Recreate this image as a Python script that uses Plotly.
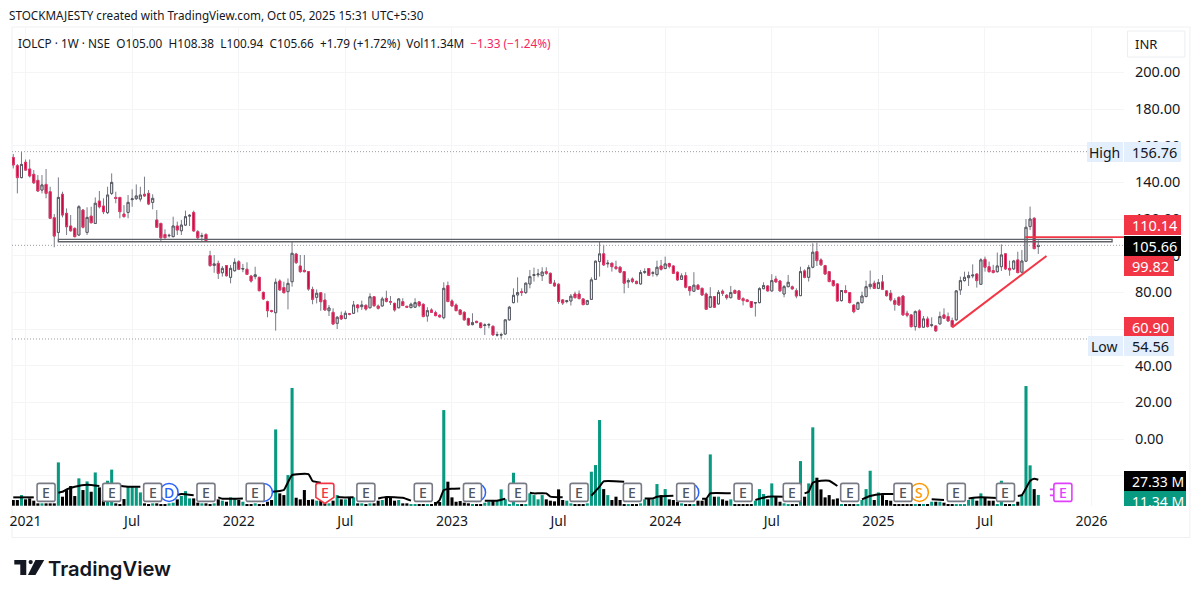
import pandas as pd
import plotly.graph_objects as go

week_axis = pd.date_range("2020-12-14", periods=272, freq="7D")

opens = [
    153.6, 149.1, 142.6, 151.0, 147.3, 144.4, 141.1, 135.8, 138.9, 134.9,
    120.7, 112.7, 133.5, 123.1, 116.2, 114.9, 111.3, 124.9, 112.7, 121.6,
    117.6, 129.8, 127.1, 123.5, 134.0, 131.8, 131.8, 122.7, 123.6, 130.6,
    131.1, 130.9, 133.5, 134.0, 129.1, 119.5, 117.6, 111.6, 110.9, 110.4,
    116.2, 113.6, 116.7, 121.6, 123.6, 113.1, 110.6, 111.6, 100.0, 94.7,
    95.8, 90.7, 94.6, 88.2, 91.8, 96.7, 92.7, 92.6, 88.9, 88.6,
    88.2, 80.0, 74.9, 70.0, 68.9, 86.2, 82.6, 80.4, 85.8, 100.9,
    94.4, 92.0, 91.3, 81.6, 77.3, 79.8, 75.8, 70.0, 69.1, 63.1,
    67.3, 65.8, 68.3, 68.6, 73.1, 72.2, 72.9, 71.6, 77.6, 72.5,
    72.6, 76.7, 75.0, 74.0, 71.6, 74.9, 72.4, 71.7, 71.9, 74.8,
    73.5, 67.1, 70.4, 68.9, 67.5, 66.2, 83.7, 75.3, 73.1, 70.4,
    69.1, 65.7, 62.4, 64.2, 63.3, 61.9, 62.2, 61.5, 56.7, 56.7,
    57.3, 65.0, 74.4, 78.6, 80.4, 79.9, 84.6, 89.2, 89.6, 89.1,
    91.3, 90.4, 85.1, 84.4, 75.9, 75.0, 75.3, 79.1, 79.1, 76.4,
    73.5, 76.2, 87.1, 96.8, 101.0, 95.6, 95.9, 93.9, 93.7, 91.3,
    85.7, 87.3, 86.0, 84.6, 90.9, 93.0, 90.4, 89.7, 94.4, 93.0,
    95.7, 94.4, 91.0, 87.1, 89.1, 83.1, 80.6, 83.9, 82.2, 79.1,
    71.9, 77.7, 73.7, 80.6, 78.4, 77.1, 81.0, 80.8, 76.6, 75.9,
    75.0, 74.2, 74.4, 82.0, 83.5, 80.8, 87.3, 86.2, 79.1, 83.1,
    83.0, 80.9, 78.2, 91.7, 88.2, 93.7, 102.2, 97.7, 94.6, 91.3,
    86.4, 84.6, 75.5, 81.0, 79.9, 73.1, 70.8, 74.4, 77.7, 83.1,
    85.0, 82.2, 85.7, 80.8, 79.5, 75.5, 77.3, 78.0, 68.6, 67.7,
    61.3, 69.9, 61.0, 65.5, 62.0, 61.7, 62.8, 67.7, 66.8, 64.6,
    65.0, 81.3, 86.4, 88.0, 89.0, 90.0, 84.4, 98.0, 94.0, 91.9,
    91.3, 94.0, 101.0, 93.1, 92.8, 97.7, 91.0, 97.0, 115.9, 120.4,
    105.0,
]
highs = [
    155.5, 150.0, 156.76, 152.5, 152.5, 146.7, 144.0, 144.0, 147.3, 137.6,
    122.7, 142.7, 134.9, 125.8, 122.2, 115.5, 127.6, 125.5, 126.4, 126.7,
    131.8, 135.3, 131.3, 137.6, 144.9, 134.9, 132.0, 127.6, 133.1, 136.2,
    138.9, 137.6, 143.1, 135.8, 133.5, 124.9, 118.0, 114.4, 112.0, 121.3,
    118.6, 119.5, 124.6, 122.7, 124.6, 114.0, 112.5, 112.2, 102.7, 100.4,
    97.3, 94.4, 94.9, 94.9, 98.6, 97.6, 95.5, 96.4, 89.5, 94.0,
    88.5, 80.4, 75.5, 70.5, 87.6, 87.1, 85.8, 87.6, 107.6, 101.6,
    100.4, 100.4, 91.6, 83.1, 81.6, 80.2, 79.5, 73.1, 71.3, 67.1,
    69.5, 70.0, 68.7, 75.3, 73.6, 75.5, 73.5, 79.5, 78.0, 73.4,
    77.6, 80.9, 78.0, 74.4, 76.8, 76.8, 72.5, 74.4, 76.8, 75.3,
    74.0, 71.9, 71.3, 70.0, 68.0, 85.5, 85.9, 76.2, 74.0, 70.8,
    69.7, 66.2, 68.6, 64.5, 63.5, 63.1, 63.3, 61.9, 58.6, 58.0,
    65.3, 72.6, 82.2, 88.2, 82.2, 85.3, 92.2, 93.5, 92.8, 93.7,
    93.7, 90.8, 86.8, 85.0, 76.2, 75.9, 79.1, 80.4, 81.0, 76.8,
    75.9, 88.2, 97.3, 107.5, 105.9, 97.7, 96.2, 97.3, 94.4, 91.7,
    87.7, 88.2, 86.4, 92.2, 93.1, 93.3, 91.7, 97.3, 97.7, 99.5,
    96.2, 94.8, 91.3, 90.4, 91.0, 83.5, 91.0, 84.6, 82.6, 79.9,
    82.8, 78.0, 81.3, 81.6, 79.1, 83.5, 81.7, 81.3, 77.3, 76.2,
    75.3, 74.6, 82.8, 85.5, 83.9, 89.9, 89.0, 86.8, 84.0, 89.5,
    83.7, 82.2, 94.0, 92.6, 95.0, 106.8, 107.1, 98.6, 95.0, 91.7,
    86.8, 85.0, 81.3, 83.9, 80.2, 73.5, 75.0, 80.4, 86.4, 91.9,
    86.4, 87.3, 89.5, 81.3, 81.3, 76.8, 77.7, 78.4, 70.0, 68.2,
    70.2, 70.8, 67.1, 66.8, 66.4, 62.0, 69.5, 71.3, 69.0, 66.2,
    81.3, 88.6, 91.3, 91.3, 95.3, 90.4, 98.6, 99.5, 96.8, 95.0,
    101.7, 106.2, 101.3, 97.3, 97.7, 102.2, 103.1, 120.0, 126.8, 121.0,
    108.38,
]
lows = [
    147.6, 134.0, 142.2, 146.4, 142.7, 139.1, 134.9, 134.0, 131.3, 120.0,
    104.6, 107.6, 120.9, 111.3, 113.1, 110.0, 110.7, 114.9, 111.3, 117.6,
    117.3, 125.8, 122.7, 122.7, 133.1, 128.6, 120.4, 120.9, 120.4, 126.7,
    130.4, 129.5, 132.2, 127.6, 125.3, 115.5, 107.6, 109.5, 110.0, 110.0,
    111.3, 111.3, 116.2, 116.2, 113.1, 109.1, 108.0, 107.8, 94.0, 90.7,
    87.3, 88.6, 88.6, 84.9, 91.3, 92.2, 91.0, 89.5, 85.3, 87.1,
    80.6, 75.8, 66.4, 69.0, 59.1, 80.9, 79.5, 70.7, 83.1, 95.5,
    90.7, 90.9, 80.9, 73.5, 74.0, 70.0, 70.0, 67.1, 62.4, 60.0,
    64.9, 65.3, 67.5, 68.2, 69.1, 70.4, 70.0, 71.3, 72.2, 70.6,
    72.2, 74.5, 73.1, 69.5, 71.3, 72.6, 71.5, 71.3, 71.5, 71.9,
    66.4, 64.0, 68.8, 67.0, 66.2, 65.3, 74.6, 72.2, 69.9, 67.5,
    64.6, 61.9, 62.0, 63.2, 60.4, 56.8, 60.4, 56.4, 55.9, 54.56,
    56.8, 64.6, 74.0, 74.4, 78.0, 79.1, 82.2, 85.9, 88.2, 86.2,
    89.5, 84.6, 83.1, 73.7, 73.1, 74.0, 72.8, 76.8, 76.2, 73.0,
    73.0, 75.9, 86.8, 88.6, 94.4, 93.5, 91.3, 92.2, 90.4, 79.5,
    82.4, 85.0, 84.4, 84.2, 90.0, 88.9, 88.6, 88.6, 91.9, 92.6,
    93.1, 90.0, 86.2, 86.8, 82.2, 78.2, 80.2, 81.3, 78.0, 70.4,
    71.5, 71.5, 73.3, 78.0, 76.0, 76.8, 79.1, 75.9, 72.9, 74.6,
    71.5, 66.8, 74.0, 81.7, 80.4, 80.4, 85.3, 80.4, 77.3, 82.8,
    81.5, 76.8, 78.0, 87.7, 85.9, 93.1, 94.4, 94.6, 89.5, 85.5,
    83.1, 75.0, 75.0, 79.5, 74.0, 68.6, 70.4, 74.0, 77.3, 81.7,
    81.9, 81.9, 81.3, 77.7, 75.0, 70.0, 72.8, 67.3, 66.4, 60.8,
    59.1, 60.4, 60.6, 60.8, 60.9, 58.4, 62.4, 65.5, 64.0, 61.0,
    64.6, 78.6, 85.9, 83.5, 87.7, 82.6, 84.0, 91.3, 90.8, 90.4,
    90.8, 91.7, 92.2, 89.1, 92.2, 90.4, 90.4, 96.6, 114.0, 103.5,
    100.94,
]
closes = [
    149.5, 142.6, 149.8, 146.7, 143.5, 139.8, 135.3, 138.6, 134.0, 120.4,
    110.7, 131.8, 122.2, 115.8, 113.6, 110.4, 126.7, 115.5, 120.9, 118.0,
    128.6, 126.7, 124.0, 133.1, 140.0, 131.2, 124.0, 121.3, 129.1, 131.0,
    132.6, 133.1, 132.6, 128.2, 131.3, 115.5, 109.8, 109.8, 111.1, 116.2,
    114.0, 116.7, 121.3, 122.0, 113.5, 109.8, 110.9, 108.2, 94.6, 95.5,
    90.4, 93.1, 89.1, 93.1, 96.4, 92.6, 93.0, 89.8, 86.2, 89.6,
    80.9, 76.4, 70.0, 69.6, 85.5, 81.3, 79.8, 84.9, 101.3, 96.2,
    91.3, 91.3, 81.8, 76.2, 79.5, 74.9, 70.4, 71.5, 62.7, 66.4,
    65.5, 68.6, 68.1, 73.1, 71.6, 73.1, 70.9, 77.6, 72.7, 71.3,
    76.4, 75.1, 74.7, 70.4, 76.4, 72.8, 71.9, 73.5, 74.4, 72.8,
    66.8, 70.0, 69.1, 67.3, 66.6, 82.2, 75.0, 72.6, 70.0, 68.0,
    65.0, 62.2, 63.5, 63.5, 60.8, 62.2, 62.4, 56.8, 56.9, 56.9,
    65.0, 71.9, 78.4, 79.9, 79.9, 85.0, 88.6, 89.7, 90.0, 91.1,
    90.4, 85.0, 83.5, 75.0, 74.2, 75.4, 77.9, 77.1, 76.6, 73.3,
    75.5, 86.8, 97.0, 101.0, 95.0, 95.9, 94.0, 93.0, 91.0, 85.0,
    86.4, 85.9, 84.8, 90.8, 91.3, 89.3, 90.7, 93.7, 92.6, 95.5,
    94.2, 90.4, 86.8, 89.0, 82.8, 80.9, 83.9, 81.7, 78.6, 70.8,
    77.7, 71.9, 80.0, 79.5, 77.1, 79.9, 79.5, 76.2, 75.5, 75.0,
    71.9, 74.4, 82.0, 83.7, 80.8, 86.4, 85.7, 80.8, 83.1, 85.5,
    81.9, 78.0, 91.3, 88.2, 93.5, 101.9, 97.3, 95.0, 90.0, 85.9,
    83.7, 75.3, 81.0, 79.9, 74.4, 69.5, 74.4, 78.0, 83.1, 84.4,
    82.2, 85.3, 81.7, 78.2, 75.9, 73.5, 73.1, 67.7, 67.5, 61.3,
    69.5, 61.0, 65.5, 61.3, 62.3, 59.0, 66.8, 65.9, 64.4, 61.3,
    80.8, 86.4, 88.2, 89.1, 89.4, 86.4, 97.7, 93.7, 91.3, 90.8,
    94.4, 100.4, 92.8, 92.2, 97.1, 90.8, 97.1, 115.5, 120.0, 103.87,
    105.66,
]
volumes = [
    6.0, 6.0, 11.2, 6.7, 7.7, 5.3, 2.5, 2.5, 2.5, 2.5,
    2.5, 45.6, 9.5, 16.5, 20.7, 10.2, 28.8, 16.5, 25.6, 14.7,
    35.0, 19.3, 13.0, 26.3, 38.0, 2.5, 1.8, 7.0, 20.0, 20.0,
    19.3, 14.0, 2.5, 1.8, 2.5, 2.5, 1.8, 1.8, 2.5, 3.2,
    6.7, 10.2, 15.4, 7.7, 7.7, 3.2, 2.5, 2.5, 1.8, 2.5,
    6.7, 5.3, 4.2, 8.8, 7.7, 6.0, 4.2, 1.8, 1.8, 2.5,
    1.8, 1.8, 4.2, 6.0, 80.3, 13.0, 11.2, 32.3, 124.0, 8.4,
    6.7, 16.5, 6.0, 6.7, 5.3, 5.3, 2.5, 2.5, 5.3, 11.2,
    6.7, 6.7, 8.8, 8.8, 2.5, 2.5, 1.8, 2.5, 2.5, 5.3,
    6.0, 8.8, 8.4, 5.3, 6.0, 2.5, 2.5, 1.8, 1.8, 1.8,
    1.8, 1.8, 1.8, 3.9, 3.9, 100.7, 25.3, 8.8, 4.2, 4.9,
    3.2, 2.5, 1.8, 1.8, 1.8, 3.2, 4.2, 5.3, 5.3, 17.2,
    6.7, 1.8, 34.7, 1.8, 1.8, 1.8, 13.0, 11.2, 6.7, 11.2,
    6.7, 5.3, 4.6, 17.2, 6.0, 5.3, 2.5, 1.8, 1.8, 1.8,
    2.5, 35.8, 42.8, 90.2, 17.5, 11.2, 6.0, 9.5, 6.0, 1.8,
    1.8, 1.8, 1.8, 2.5, 6.7, 8.1, 6.7, 22.8, 11.2, 17.5,
    6.7, 6.0, 4.2, 2.5, 1.8, 1.8, 1.8, 5.3, 5.3, 7.7,
    54.0, 9.5, 9.5, 6.7, 5.3, 6.7, 1.8, 1.8, 1.8, 1.8,
    1.8, 5.3, 17.5, 12.3, 6.7, 23.5, 10.2, 4.2, 2.5, 1.8,
    1.8, 1.8, 47.0, 9.5, 23.5, 82.5, 29.5, 17.2, 8.8, 11.2,
    6.7, 7.7, 1.8, 1.8, 1.8, 1.8, 1.8, 6.0, 17.5, 36.8,
    6.0, 14.0, 11.2, 6.0, 5.3, 1.8, 1.8, 1.8, 1.8, 1.8,
    1.8, 1.8, 1.8, 1.8, 4.2, 4.2, 4.2, 3.2, 1.8, 1.8,
    1.8, 1.8, 1.8, 6.0, 8.8, 5.3, 13.0, 8.8, 5.3, 5.3,
    1.8, 26.3, 1.8, 1.8, 1.8, 4.2, 11.2, 126.0, 42.5, 17.5,
    11.34,
]

# volume average, only where it can be seen; None leaves the line broken
ma_weeks = [
    0, 5, 8, 11, 12, 13, 15, 18, 21, 23, 26, 28, 31, 36, 40, 41, 44, 47, 50, 51, 56, 60,
    63, 65, 66, 68, 72, 73, 75, 77, 79, 80, 83, 86, 89, 91, 95, 97, 100, 103, 104, 105,
    107, 109, 112, 115, 118, 120, 123, 126, 127, 130, 131, 134, 138, 141, 143, 144, 149,
    151, 154, 156, 157, 161, 165, 168, 169, 170, 175, 178, 181, 184, 188, 190, 193, 194,
    195, 197, 199, 201, 204, 207, 209, 212, 215, 220, 224, 227, 230, 233, 236, 240, 242,
    245, 246, 248, 249, 250,
]
ma_values = [
    8.8, 8.8, None, 13.7, 14.7, 17.2, 20.0, 22.1, 20.7, None, 21.0, 20.0, 20.0, None, 11.2,
    12.3, 10.9, None, 8.8, 7.4, 7.7, None, 14.7, 15.4, 16.5, 32.3, 33.3, 26.0, 24.2, None,
    9.5, 8.8, 8.8, None, 7.7, 9.1, 8.4, 5.3, None, 1.8, 6.0, 16.5, 17.9, 18.2, None, 5.3,
    5.3, 7.4, None, 13.7, 13.0, 13.0, 9.5, 8.8, None, 10.5, 20.0, 25.6, 25.3, None, 7.7,
    7.7, 9.5, 10.5, None, 7.4, 7.4, 13.0, 13.0, None, 6.0, 9.5, 9.5, None, 13.0, 14.7,
    24.2, 26.3, 26.3, 20.7, None, 6.7, 10.2, 12.3, 12.3, None, 6.7, 6.0, None, 7.7, 8.8,
    8.1, None, 10.2, 11.2, 26.0, 28.4, 27.33,
]

earnings_weeks = [8, 24, 34, 47, 59, 86, 100, 112, 123, 138, 151, 164, 178, 190, 204, 217, 230, 242]
red_earnings_week = 76
next_earnings_week = 256
dividend_weeks = [38, 61, 113, 165]
split_week = 221

tick_weeks = [3, 29, 55, 81, 107, 133, 159, 185, 211, 237, 263]
tick_labels = ["2021", "Jul", "2022", "Jul", "2023", "Jul", "2024", "Jul", "2025", "Jul", "2026"]
price_ticks = [-20, 0, 20, 40, 60, 80, 100, 120, 140, 160, 180, 200]

high_price = 156.76
low_price = 54.56
last_price = 105.66
box_low = 107.6
box_high = 108.9
red_level = 110.14
trend_from = 60.90
trend_to = 99.82

UP_BODY = "#ffffff"
UP_LINE = "#53565f"
DOWN_BODY = "#bf0d42"
DOWN_LINE = "#e8376a"
WICK = "#787b86"
TEAL = "#089981"
RED = "#f23645"
TEXT = "#131722"
FONT = "Noto Sans"
# plotly pads annotation text by this much on the left
TEXT_PAD = 4

LEFT, RIGHT, TOP, BOTTOM = 10, 1124, 27, 506


def px(x):
    return (x - LEFT) / (RIGHT - LEFT)


def py(y):
    return (BOTTOM - y) / (BOTTOM - TOP)


def day(week):
    return week_axis[week].strftime("%Y-%m-%d")


dates = week_axis[: len(closes)]
body_tops = [max(o, c) for o, c in zip(opens, closes)]
body_bottoms = [min(o, c) for o, c in zip(opens, closes)]
volume_colors = [TEAL if c >= o else "#000000" for o, c in zip(opens, closes)]

fig = go.Figure()
fig.add_trace(
    go.Bar(x=dates, y=volumes, marker={"color": volume_colors, "line": {"width": 0}}, yaxis="y2", hoverinfo="skip")
)
fig.add_trace(
    go.Scatter(
        x=week_axis[ma_weeks],
        y=ma_values,
        mode="lines",
        line={"color": "#000000", "width": 2, "shape": "spline", "smoothing": 0.4},
        yaxis="y2",
        hoverinfo="skip",
    )
)
# wicks first so they can stay grey under the coloured bodies
fig.add_trace(
    go.Candlestick(
        x=dates,
        open=opens,
        high=highs,
        low=lows,
        close=closes,
        increasing={"line": {"color": WICK, "width": 1}, "fillcolor": WICK},
        decreasing={"line": {"color": WICK, "width": 1}, "fillcolor": WICK},
        hoverinfo="skip",
    )
)
fig.add_trace(
    go.Candlestick(
        x=dates,
        open=opens,
        high=body_tops,
        low=body_bottoms,
        close=closes,
        increasing={"line": {"color": UP_LINE, "width": 1}, "fillcolor": UP_BODY},
        decreasing={"line": {"color": DOWN_LINE, "width": 1}, "fillcolor": DOWN_BODY},
        hoverinfo="skip",
    )
)

shapes = [
    # frame round the whole chart
    dict(type="rect", xref="paper", yref="paper", x0=px(10), x1=px(1190), y0=py(537.5), y1=py(27),
         line={"color": "#eef0f3", "width": 1}, layer="below"),
]
for level, end in ((high_price, px(1087)), (low_price, px(1088)), (last_price, 1)):
    shapes.append(
        dict(type="line", xref="paper", yref="y", x0=0, x1=end, y0=level, y1=level,
             line={"color": "#9a9da5", "width": 1, "dash": "1px,2px"})
    )
shapes += [
    dict(type="rect", xref="x", yref="y", x0=day(11), x1=day(268), y0=box_low, y1=box_high,
         line={"color": "#5f6269", "width": 1.3}, fillcolor="rgba(255,255,255,0)"),
    dict(type="line", xref="x domain", yref="y", x0=px(1025), x1=1, y0=red_level, y1=red_level,
         line={"color": RED, "width": 1.8}),
    dict(type="line", xref="x", yref="y", x0=day(229), x1=day(252), y0=trend_from, y1=trend_to,
         line={"color": RED, "width": 2}),
]

ROUND_BOX = "M -7 -9 L 7 -9 Q 9 -9 9 -7 L 9 7 Q 9 9 7 9 L -7 9 Q -9 9 -9 7 L -9 -7 Q -9 -9 -7 -9 Z"
SHIELD = "M -7 9 L 7 9 Q 9 9 9 7 L 9 -5 L 0 -11 L -9 -5 L -9 7 Q -9 9 -7 9 Z"
NEXT_BOX = ROUND_BOX + " M -13 3 L -9 3 M -13 -3 L -9 -3"
EVENT_Y = 14


def event_box(week, path, color):
    return dict(type="path", path=path, xref="x", yref="y2", xsizemode="pixel", ysizemode="pixel",
                xanchor=day(week), yanchor=EVENT_Y, line={"color": color, "width": 1.6}, fillcolor="#ffffff")


def event_circle(week, color):
    return dict(type="circle", xref="x", yref="y2", xsizemode="pixel", ysizemode="pixel",
                xanchor=day(week), yanchor=EVENT_Y, x0=-9, x1=9, y0=-9, y1=9,
                line={"color": color, "width": 1.5}, fillcolor="#ffffff")


for week in dividend_weeks:
    shapes.append(event_circle(week, "#2962ff"))
shapes.append(event_circle(split_week, "#ff9800"))
for week in earnings_weeks:
    shapes.append(event_box(week, ROUND_BOX, "#787b86"))
shapes.append(event_box(red_earnings_week, SHIELD, RED))
shapes.append(event_box(next_earnings_week, NEXT_BOX, "#e040fb"))


def event_text(week, text, color):
    return dict(x=day(week), y=EVENT_Y, xref="x", yref="y2", text=text, showarrow=False,
                font={"family": FONT, "size": 14, "color": color, "weight": 500})


annotations = [event_text(week, "E", "#50535e") for week in earnings_weeks]
annotations += [
    event_text(red_earnings_week, "E", RED),
    event_text(next_earnings_week, "E", "#e040fb"),
    event_text(dividend_weeks[0], "D", "#2962ff"),
    event_text(split_week, "S", "#ff9800"),
]


def box(x0, x1, yc, height, bg):
    return dict(xref="paper", yref="paper", x=px(x0), y=py(yc), xanchor="left", yanchor="middle",
                width=x1 - x0, height=height, bgcolor=bg, text=" ", showarrow=False, borderpad=0, borderwidth=0)


def words(text, x, yc, color, size=14.5, family=FONT, **font):
    return dict(xref="paper", yref="paper", x=px(x - TEXT_PAD), y=py(yc), xanchor="left", yanchor="middle",
                text=text, showarrow=False, font={"family": family, "size": size, "color": color, **font})


LIGHT_BLUE = "#e3effd"
annotations += [
    box(1087, 1123, 152, 20, LIGHT_BLUE),
    box(1124.5, 1181, 152, 20, LIGHT_BLUE),
    box(1124, 1181, 225, 20, RED),
    box(1124, 1174, 266, 20, RED),
    box(1124, 1181, 245.5, 20, "#000000"),
    box(1124, 1174, 326.6, 20, RED),
    box(1088, 1123, 346.3, 20, LIGHT_BLUE),
    box(1124.5, 1174, 346.3, 20, LIGHT_BLUE),
    box(1124, 1186, 481, 20, "#000000"),
    box(1124, 1186, 501.5, 21, TEAL),
    words("High", 1091, 152, TEXT, size=14),
    words("156.76", 1134, 152, TEXT),
    words("110.14", 1134, 225, "#ffffff"),
    words("99.82", 1134, 266, "#ffffff"),
    words("105.66", 1134, 245.5, "#ffffff"),
    words("60.90", 1134, 326.6, "#ffffff"),
    words("Low", 1093, 346.3, TEXT, size=14),
    words("54.56", 1134, 346.3, TEXT),
    words("27.33 M", 1134, 481, "#ffffff", size=14),
    words("11.34 M", 1134, 501.5, "#ffffff", size=14),
    # trims the last volume label at the bottom of the pane
    box(1124, 1188, 512, 12, "#ffffff"),
    words("STOCKMAJESTY created with TradingView.com, Oct 05, 2025 15:31 UTC+5:30", 9, 15, TEXT, size=11.7),
    words("IOLCP · 1W · NSE  O105.00  H108.38  L100.94  C105.66  +1.79 (+1.72%)  Vol11.34M"
          "  <span style='color:#f7255f'>−1.33 (−1.24%)</span>", 18, 43, TEXT, size=11.8),
    words("INR", 1137, 44, TEXT, size=13),
    words("TradingView", 48, 568, TEXT, size=20.2, family="Inter", weight=600),
]

shapes += [
    dict(type="rect", xref="paper", yref="paper", x0=px(1127.5), x1=px(1185), y0=py(57), y1=py(31),
         line={"color": "#eceef2", "width": 1}),
    # TradingView logo
    dict(type="path", xref="paper", yref="paper", fillcolor=TEXT, line={"width": 0},
         path=f"M {px(12.3)} {py(560)} L {px(24.3)} {py(560)} L {px(24.3)} {py(575)} L {px(18.3)} {py(575)}"
              f" L {px(18.3)} {py(564.5)} L {px(12.3)} {py(564.5)} Z"),
    dict(type="circle", xref="paper", yref="paper", fillcolor=TEXT, line={"width": 0},
         x0=px(26.6), x1=px(30.8), y0=py(564.2), y1=py(560)),
    dict(type="path", xref="paper", yref="paper", fillcolor=TEXT, line={"width": 0},
         path=f"M {px(33.5)} {py(560)} L {px(42.3)} {py(560)} L {px(33.5)} {py(575)} L {px(26)} {py(575)} Z"),
]

fig.update_layout(
    width=1200,
    height=598,
    autosize=False,
    margin={"l": LEFT, "r": 1200 - RIGHT, "t": TOP, "b": 598 - BOTTOM},
    paper_bgcolor="#ffffff",
    plot_bgcolor="#ffffff",
    showlegend=False,
    bargap=0.25,
    shapes=shapes,
    annotations=annotations,
    hovermode=False,
    xaxis={
        "type": "date",
        "range": ["2020-12-11 20:00", "2026-02-22 08:00"],
        "rangeslider": {"visible": False},
        "tickvals": [day(w) for w in tick_weeks],
        "ticktext": tick_labels,
        "tickfont": {"family": FONT, "size": 14, "color": TEXT},
        "ticks": "outside",
        "ticklen": 2,
        "tickcolor": "rgba(0,0,0,0)",
        "gridcolor": "#f4f5f6",
        "showline": False,
        "zeroline": False,
    },
    yaxis={
        "side": "right",
        "range": [-36.55, 224.77],
        "tickvals": price_ticks,
        "tickformat": ".2f",
        "tickfont": {"family": FONT, "size": 14.5, "color": TEXT},
        "ticks": "outside",
        "ticklen": 7,
        "tickcolor": "rgba(0,0,0,0)",
        "gridcolor": "#f4f5f6",
        "showline": False,
        "zeroline": False,
    },
    yaxis2={
        "overlaying": "y",
        "side": "left",
        "range": [-0.3, 504],
        "showgrid": False,
        "showticklabels": False,
        "zeroline": False,
        "showline": False,
    },
)

fig.write_html(
    "out.html",
    config={"displayModeBar": False},
    post_script="document.body.style.margin='0';document.body.style.overflow='hidden';",
)
